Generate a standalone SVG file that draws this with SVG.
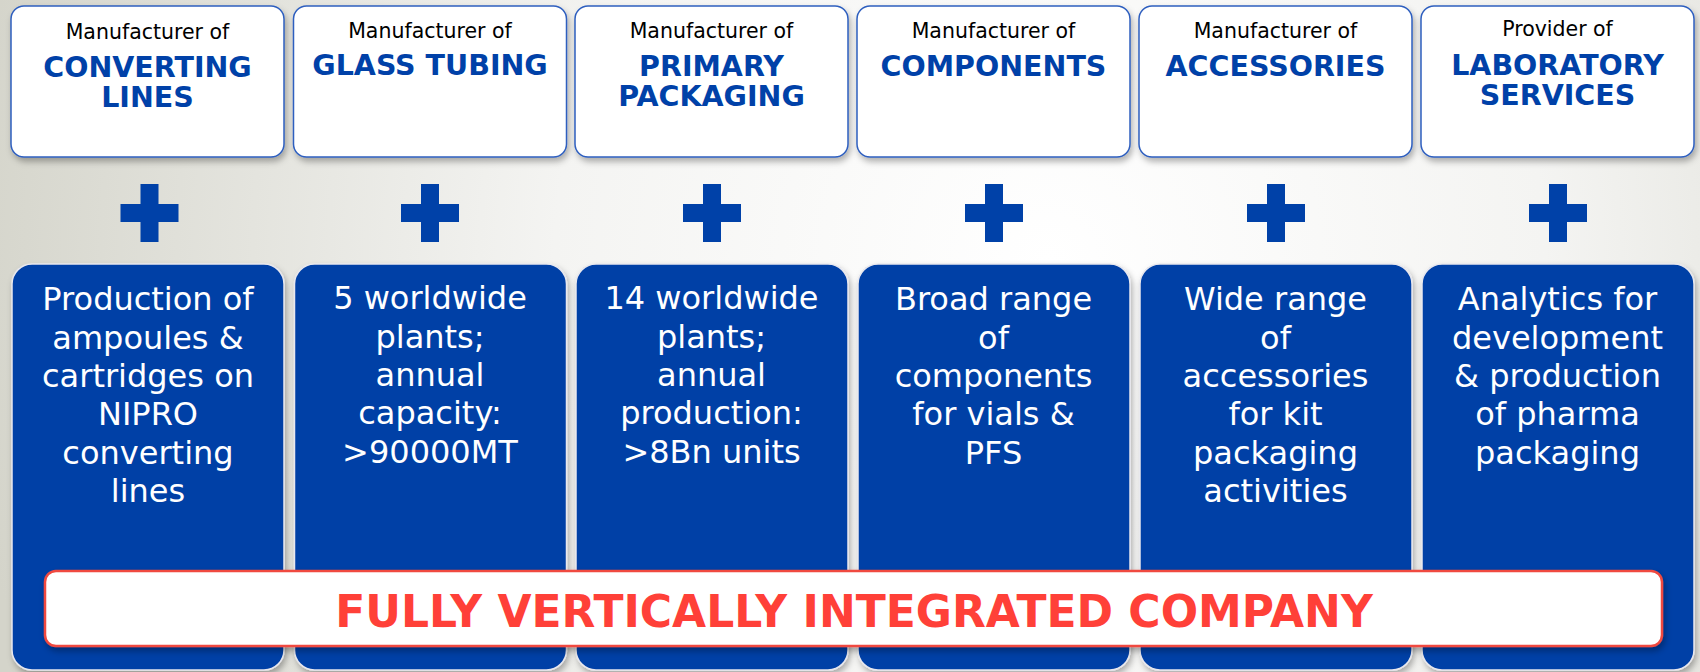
<svg xmlns="http://www.w3.org/2000/svg" width="1700" height="672" viewBox="0 0 1700 672">
<defs>
<radialGradient id="bg" cx="1050" cy="260" r="1100" gradientUnits="userSpaceOnUse">
<stop offset="0" stop-color="#ffffff"/>
<stop offset="0.45" stop-color="#f4f4f2"/>
<stop offset="1" stop-color="#d4d4ca"/>
</radialGradient>
<filter id="sh" x="-10%" y="-10%" width="120%" height="125%">
<feDropShadow dx="2" dy="4" stdDeviation="3" flood-color="#000" flood-opacity="0.3"/>
</filter>
<style>
.top{fill:#ffffff;stroke:#2f5fbf;stroke-width:1.5;filter:url(#sh)}
.blue{fill:#003fa6;stroke:#e8e8ee;stroke-width:1.5;filter:url(#sh)}
.small{font-family:"DejaVu Sans",Verdana,sans-serif;font-size:20.5px;fill:#000;text-anchor:middle}
.title{font-family:"DejaVu Sans",Verdana,sans-serif;font-size:28.5px;font-weight:bold;fill:#0041a8;text-anchor:middle}
.body{font-family:"DejaVu Sans",Verdana,sans-serif;font-size:32px;fill:#ffffff;text-anchor:middle}
.plus{fill:#0041a8}
.banner{fill:#ffffff;stroke:#f04a40;stroke-width:2.5;filter:url(#sh)}
.bantext{font-family:"DejaVu Sans",Verdana,sans-serif;font-size:44px;font-weight:bold;fill:#ff4038;text-anchor:middle}
</style>
</defs>
<rect x="0" y="0" width="1700" height="672" fill="url(#bg)"/>

<g id="header-converting-lines">
<rect class="top" x="11" y="6" width="273" height="151" rx="13"/>
<text class="small" x="147.5" y="39">Manufacturer of</text>
<text class="title" x="147.5" y="77">CONVERTING</text>
<text class="title" x="147.5" y="107">LINES</text>
</g>
<g id="header-glass-tubing">
<rect class="top" x="293.5" y="6" width="273" height="151" rx="13"/>
<text class="small" x="430" y="38">Manufacturer of</text>
<text class="title" x="430" y="75">GLASS TUBING</text>
</g>
<g id="header-primary-packaging">
<rect class="top" x="575" y="6" width="273" height="151" rx="13"/>
<text class="small" x="711.5" y="38">Manufacturer of</text>
<text class="title" x="711.5" y="76">PRIMARY</text>
<text class="title" x="711.5" y="106">PACKAGING</text>
</g>
<g id="header-components">
<rect class="top" x="857" y="6" width="273" height="151" rx="13"/>
<text class="small" x="993.5" y="38">Manufacturer of</text>
<text class="title" x="993.5" y="76">COMPONENTS</text>
</g>
<g id="header-accessories">
<rect class="top" x="1139" y="6" width="273" height="151" rx="13"/>
<text class="small" x="1275.5" y="38">Manufacturer of</text>
<text class="title" x="1275.5" y="76">ACCESSORIES</text>
</g>
<g id="header-laboratory-services">
<rect class="top" x="1421" y="6" width="273" height="151" rx="13"/>
<text class="small" x="1557.5" y="36">Provider of</text>
<text class="title" x="1557.5" y="75">LABORATORY</text>
<text class="title" x="1557.5" y="105">SERVICES</text>
</g>

<g id="plus-signs">
<path class="plus" d="M140.5 184h18v20h20v18h-20v20h-18v-20h-20v-18h20z"/>
<path class="plus" d="M421 184h18v20h20v18h-20v20h-18v-20h-20v-18h20z"/>
<path class="plus" d="M703 184h18v20h20v18h-20v20h-18v-20h-20v-18h20z"/>
<path class="plus" d="M985 184h18v20h20v18h-20v20h-18v-20h-20v-18h20z"/>
<path class="plus" d="M1267 184h18v20h20v18h-20v20h-18v-20h-20v-18h20z"/>
<path class="plus" d="M1549 184h18v20h20v18h-20v20h-18v-20h-20v-18h20z"/>
</g>

<g id="detail-converting-lines">
<rect class="blue" x="12" y="264" width="272" height="406" rx="20"/>
<text class="body" x="148" y="310">Production of</text>
<text class="body" x="148" y="348.5">ampoules &amp;</text>
<text class="body" x="148" y="387">cartridges on</text>
<text class="body" x="148" y="425">NIPRO</text>
<text class="body" x="148" y="463.5">converting</text>
<text class="body" x="148" y="502">lines</text>
</g>
<g id="detail-glass-tubing">
<rect class="blue" x="294.5" y="264" width="272" height="406" rx="20"/>
<text class="body" x="430" y="309">5 worldwide</text>
<text class="body" x="430" y="347.5">plants;</text>
<text class="body" x="430" y="386">annual</text>
<text class="body" x="430" y="424">capacity:</text>
<text class="body" x="430" y="462.5">&gt;90000MT</text>
</g>
<g id="detail-primary-packaging">
<rect class="blue" x="576" y="264" width="272" height="406" rx="20"/>
<text class="body" x="711.5" y="309">14 worldwide</text>
<text class="body" x="711.5" y="347.5">plants;</text>
<text class="body" x="711.5" y="386">annual</text>
<text class="body" x="711.5" y="424">production:</text>
<text class="body" x="711.5" y="462.5">&gt;8Bn units</text>
</g>
<g id="detail-components">
<rect class="blue" x="858" y="264" width="272" height="406" rx="20"/>
<text class="body" x="993.5" y="310">Broad range</text>
<text class="body" x="993.5" y="348.5">of</text>
<text class="body" x="993.5" y="387">components</text>
<text class="body" x="993.5" y="425">for vials &amp;</text>
<text class="body" x="993.5" y="463.5">PFS</text>
</g>
<g id="detail-accessories">
<rect class="blue" x="1140" y="264" width="272" height="406" rx="20"/>
<text class="body" x="1275.5" y="310">Wide range</text>
<text class="body" x="1275.5" y="348.5">of</text>
<text class="body" x="1275.5" y="387">accessories</text>
<text class="body" x="1275.5" y="425">for kit</text>
<text class="body" x="1275.5" y="463.5">packaging</text>
<text class="body" x="1275.5" y="502">activities</text>
</g>
<g id="detail-laboratory-services">
<rect class="blue" x="1422" y="264" width="272" height="406" rx="20"/>
<text class="body" x="1557.5" y="310">Analytics for</text>
<text class="body" x="1557.5" y="348.5">development</text>
<text class="body" x="1557.5" y="387">&amp; production</text>
<text class="body" x="1557.5" y="425">of pharma</text>
<text class="body" x="1557.5" y="463.5">packaging</text>
</g>

<g id="banner">
<rect class="banner" x="45" y="571" width="1617" height="75" rx="11"/>
<text class="bantext" x="854" y="627">FULLY VERTICALLY INTEGRATED COMPANY</text>
</g>
<g id="connectors"/>
</svg>
